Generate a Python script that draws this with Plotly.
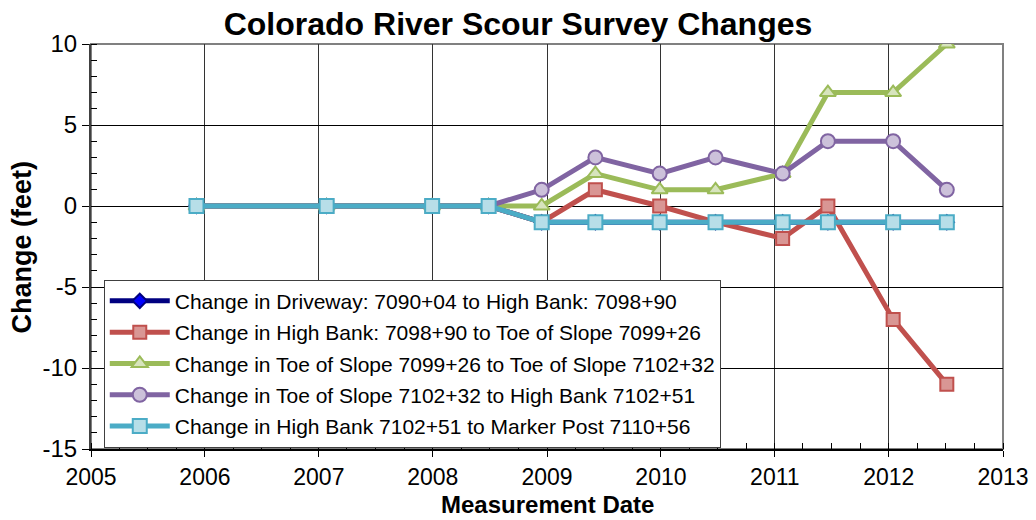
import plotly.graph_objects as go

dates = ["2005-12-05", "2007-01-26", "2007-12-30", "2008-06-28", "2008-12-15",
         "2009-06-05", "2009-12-28", "2010-06-25", "2011-01-26", "2011-06-20",
         "2012-01-15", "2012-07-05"]

driveway = [0, 0, 0, 0, -1, -1, -1, -1, -1, -1, -1, -1]
high_bank_toe = [0, 0, 0, 0, -1, 1, 0, -1, -2, 0, -7, -11]
toe_toe = [0, 0, 0, 0, 0, 2, 1, 1, 2, 7, 7, 10]
toe_high_bank = [0, 0, 0, 0, 1, 3, 2, 3, 2, 4, 4, 1]
high_bank_marker = [0, 0, 0, 0, -1, -1, -1, -1, -1, -1, -1, -1]

y_tick_vals = [-15, -10, -5, 0, 5, 10]
y_tick_text = ["-15", "-10", "-5", "0", "5", "10"]

names = [
    "Change in Driveway: 7090+04 to High Bank: 7098+90",
    "Change in High Bank: 7098+90 to Toe of Slope 7099+26",
    "Change in Toe of Slope 7099+26 to Toe of Slope 7102+32",
    "Change in Toe of Slope 7102+32 to High Bank 7102+51",
    "Change in High Bank 7102+51 to Marker Post 7110+56",
]
series = [driveway, high_bank_toe, toe_toe, toe_high_bank, high_bank_marker]
line_colors = ["#000080", "#C0504D", "#9BBB59", "#8064A2", "#4BACC6"]
fill_colors = ["#0000FF", "#D99694", "#D7E4BD", "#CCC1DA", "#B7DEE8"]
symbols = ["diamond", "square", "triangle-up", "circle", "square"]
sizes = [11, 13, 14, 14, 14]

fig = go.Figure()
for i, (name, vals, lc, fc, sym, sz) in enumerate(zip(names, series, line_colors, fill_colors, symbols, sizes)):
    fig.add_trace(go.Scatter(
        x=dates, y=vals, name=name, mode="lines+markers", legendgroup=f"g{i}",
        line=dict(color=lc, width=5),
        marker=dict(symbol=sym, size=sz, color=fc, line=dict(color=lc, width=2)),
    ))

font = "Liberation Sans, Arial, sans-serif"
fig.update_layout(
    width=1036, height=520,
    margin=dict(l=91, r=33, t=44, b=71, autoexpand=False),
    paper_bgcolor="white", plot_bgcolor="white",
    font=dict(family=font, color="black", size=20),
    title=dict(text="<b>Colorado River Scour Survey Changes</b>", x=0.5, xref="container",
               y=0.955, yanchor="middle", font=dict(size=32, family=font)),
    legend=dict(x=0.014, y=0.418, xanchor="left", yanchor="top",
                bgcolor="white", bordercolor="#404040", borderwidth=1,
                font=dict(size=21, family=font), tracegroupgap=1, itemwidth=60),
    showlegend=True,
)
fig.update_xaxes(
    type="date", range=["2005-01-01", "2013-01-01"], automargin=False,
    tick0="2005-01-01", dtick="M12", tickformat="%Y",
    ticks="outside", ticklen=6, tickcolor="black",
    showgrid=True, gridcolor="#333333", gridwidth=1,
    showline=True, linecolor="black", linewidth=2,
    minor=dict(dtick="M3", ticks="inside", ticklen=6, tickcolor="black", showgrid=False),
    tickfont=dict(size=23), zeroline=False,
)
fig.update_yaxes(
    range=[-15, 10], tickvals=y_tick_vals, ticktext=y_tick_text, automargin=False,
    ticks="outside", ticklen=7, tickcolor="black",
    showgrid=True, gridcolor="black", gridwidth=1,
    showline=True, linecolor="#404040", linewidth=2,
    minor=dict(dtick=1, ticks="inside", ticklen=6, tickcolor="black", showgrid=False),
    tickfont=dict(size=24), zeroline=False,
)
fig.add_shape(type="rect", xref="paper", yref="paper", x0=0, x1=1, y0=0, y1=1,
              line=dict(color="#808080", width=2), layer="below")
fig.add_annotation(text="<b>Measurement Date</b>", xref="paper", yref="paper",
                   x=0.5, y=-0.1728, xanchor="center", yanchor="bottom",
                   showarrow=False, font=dict(size=24, family=font), borderpad=0)
fig.add_annotation(text="<b>Change (feet)</b>", xref="paper", yref="paper",
                   x=-0.0757, y=0.5, xanchor="center", yanchor="middle", textangle=-90,
                   showarrow=False, font=dict(size=27, family=font), borderpad=0)

fig.write_html("out.html")
